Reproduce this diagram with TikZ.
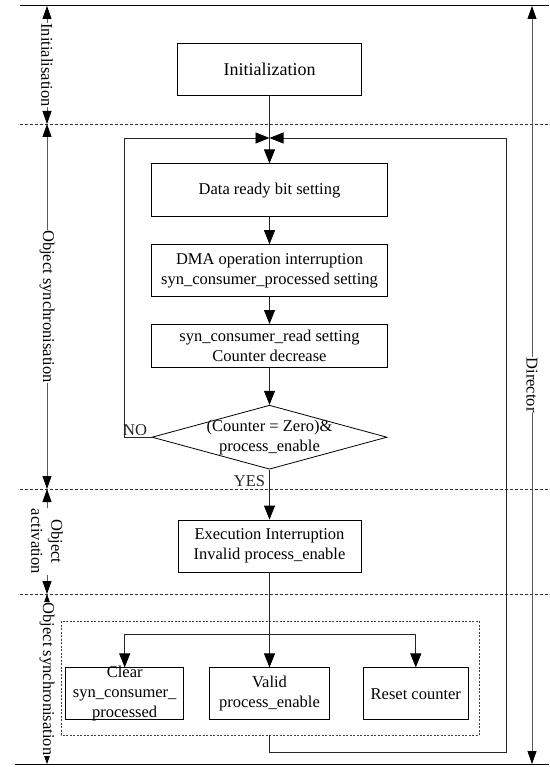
\documentclass[tikz,border=0pt]{standalone}
\usepackage{fontspec}
\setmainfont{Liberation Serif}
\usetikzlibrary{shapes.geometric,arrows.meta,positioning,calc}

\begin{document}
\begin{tikzpicture}[x=1pt,y=-1pt,line width=0.8pt,>={Triangle[length=14pt,width=11pt,color=black]},
	every node/.style={font=\fontsize{16.5}{20}\selectfont}]
	\tikzset{block/.style={draw,align=center,inner sep=0pt,minimum height=52pt},
		cond/.style={draw,diamond,inner sep=0pt,minimum width=235pt,minimum height=64pt},
		flow/.style={->,black!85},
		dim/.style={{Triangle[length=13pt,width=9pt,color=black]}-{Triangle[length=13pt,width=9pt,color=black]},black!65},
		sep/.style={dash pattern=on 3pt off 2pt,black!80},
		group/.style={draw,dash pattern=on 2pt off 1.5pt,black!75},
		tag/.style={rotate=-90,fill=white,text=black,inner sep=0.5pt,align=center}}
	\useasboundingbox (0,0) rectangle (549,767);

	% phase borders
	\coordinate (topL) at (20,6);    \coordinate (topR) at (549,6);
	\coordinate (botL) at (15,764);  \coordinate (botR) at (549,764);
	\draw[line width=1pt] (topL) -- (topR);
	\draw[line width=1pt] (botL) -- (botR);
	\foreach \y in {124,489,594}
		\draw[sep] (20,\y) -- (549,\y);

	% phase labels
	\coordinate (d0) at (47,6);
	\coordinate (d1) at (47,124);
	\coordinate (d2) at (47,489);
	\coordinate (d3) at (47,594);
	\coordinate (d4) at (47,764);
	\draw[dim] (d0) -- node[tag] {Initialisation} (d1);
	\draw[dim] (d1) -- node[tag] {Object synchronisation} (d2);
	\draw[dim] (d2) -- node[tag] {Object\\activation} (d3);
	\draw[dim] (d3) -- node[tag] {Object synchronisation} (d4);
	\coordinate (dir0) at (532,6);
	\coordinate (dir1) at (532,764);
	\draw[dim] (dir0) -- node[tag] {Director} (dir1);

	% flow
	\node[block,minimum width=184pt,font=\fontsize{18}{21}\selectfont] (init) at (269.5,69) {Initialization};
	\node[block,minimum width=236pt,minimum height=53pt,below=68pt of init] (ready) {Data ready bit setting};
	\node[block,minimum width=236pt,below=27pt of ready] (dma) {DMA operation interruption\\syn\_consumer\_processed setting};
	\node[block,minimum width=236pt,minimum height=43pt,below=27pt of dma] (cread) {syn\_consumer\_read setting\\Counter decrease};
	\node[cond,below=37pt of cread] (check) {};
	\node[align=center,inner sep=0pt] (checktext) at (check) {(Counter = Zero)\&\\process\_enable};
	\node[block,minimum width=183pt,below=50pt of check] (exec) {Execution Interruption\\Invalid process\_enable};
	\node[block,minimum width=120pt,below=95pt of exec] (valid) {Valid\\process\_enable};
	\node[block,minimum width=118pt,inner ysep=-2pt,left=25pt of valid] (clear) {Clear\\syn\_consumer\_\\processed};
	\node[block,minimum width=105pt,right=33pt of valid] (reset) {Reset counter};

	\coordinate (grpNW) at (61,621);
	\coordinate (grpSE) at (479,735);
	\draw[group] (grpNW) rectangle (grpSE);

	\coordinate (merge) at (269.5,138);
	\coordinate (loopL) at (124,138);
	\coordinate (loopR) at (506,752);
	\coordinate (split) at (269.5,634);

	\draw[flow] (init) -- (ready);
	\draw[flow] (ready) -- (dma);
	\draw[flow] (dma) -- (cread);
	\draw[flow] (cread) -- (check);
	\draw[flow] (check.south) -- node[left,pos=0.24,inner sep=4pt] {YES} (exec);
	\draw[flow] (check.west) -| node[above,pos=0.3,inner sep=1pt] {NO} (loopL) -- (merge);
	\draw[flow] (exec) -- (valid);
	\draw[flow] (split) -| (clear);
	\draw[flow] (split) -| (reset);
	\draw[flow] (valid |- grpSE) |- (loopR) |- (merge);
\end{tikzpicture}
\end{document}
